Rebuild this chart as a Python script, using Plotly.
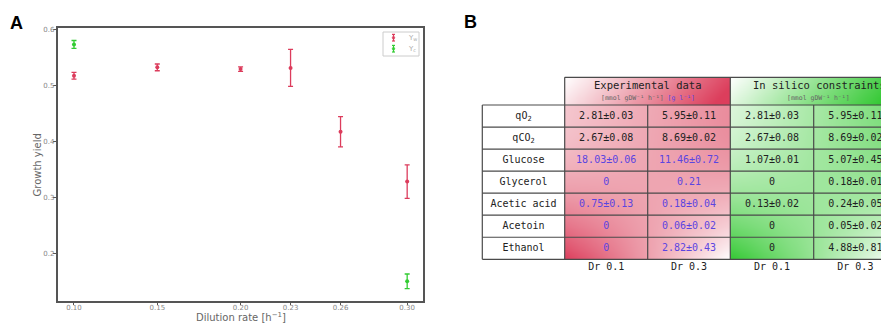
import plotly.graph_objects as go

# ---------------- data: panel A ----------------
dilution = [0.10, 0.15, 0.20, 0.23, 0.26, 0.30]
dilution_labels = ["0.10", "0.15", "0.20", "0.23", "0.26", "0.30"]
yw = [0.517, 0.532, 0.529, 0.531, 0.417, 0.328]
yw_err = [0.006, 0.006, 0.004, 0.033, 0.027, 0.030]
yc_dilution = [0.10, 0.30]
yc = [0.573, 0.150]
yc_err = [0.007, 0.013]
ytick_vals = [0.2, 0.3, 0.4, 0.5, 0.6]
ytick_labels = ["0.2", "0.3", "0.4", "0.5", "0.6"]
legend_labels = ["Y<sub>w</sub>", "Y<sub>c</sub>"]

# ---------------- data: panel B ----------------
row_labels = ["qO<sub>2</sub>", "qCO<sub>2</sub>", "Glucose", "Glycerol",
              "Acetic acid", "Acetoin", "Ethanol"]
exp_dr01 = ["2.81±0.03", "2.67±0.08", "18.03±0.06", "0", "0.75±0.13", "0", "0"]
exp_dr03 = ["5.95±0.11", "8.69±0.02", "11.46±0.72", "0.21", "0.18±0.04", "0.06±0.02", "2.82±0.43"]
sil_dr01 = ["2.81±0.03", "2.67±0.08", "1.07±0.01", "0", "0.13±0.02", "0", "0"]
sil_dr03 = ["5.95±0.11", "8.69±0.02", "5.07±0.45", "0.18±0.01", "0.24±0.05", "0.05±0.02", "4.88±0.81"]
exp_in_g_per_l = [False, False, True, True, True, True, True]
col_labels = ["Dr 0.1", "Dr 0.3", "Dr 0.1", "Dr 0.3"]
header_exp = "Experimental data"
header_sil = "In silico constraints"
units_mmol = "[mmol gDW⁻¹ h⁻¹]"
units_gl = "[g l⁻¹]"

# ---------------- style / geometry ----------------
VW, VH = 889, 323          # browser window
OFF = 8                    # default page body margin
W, H = VW - OFF, VH - OFF  # figure size
RED = "#dc3c5c"
GREEN = "#33cc33"
BLUE = "#5b45e0"
DARK = "#222222"
MONO = "DejaVu Sans Mono"
SANS = "DejaVu Sans"
BORDER = "#4a4a4a"


def px(x):  # window pixel -> paper x
    return (x - OFF) / W


def py(y):  # window pixel -> paper y
    return 1 - (y - OFF) / H


def note(x, y, text, font, **kw):
    fig.add_annotation(x=px(x), y=py(y), xref="paper", yref="paper", text=text,
                       showarrow=False, xanchor=kw.pop("xanchor", "center"),
                       yanchor="middle", font=font, **kw)


# table geometry (window pixel space of x2/y2)
col_edges = [482.3, 564.7, 647.7, 730.3, 813.7, 897.0]
row_top = 105.0
row_h = 22.04
row_edges = [row_top + i * row_h for i in range(len(row_labels) + 1)]
head_top = 77.3

fig = go.Figure()

# ---------- panel A ----------
fig.add_trace(go.Scatter(
    x=dilution, y=yw, mode="markers", name=legend_labels[0],
    marker=dict(color=RED, size=4),
    error_y=dict(type="data", array=yw_err, color=RED, thickness=1.3, width=2.5),
    xaxis="x", yaxis="y", showlegend=False))
fig.add_trace(go.Scatter(
    x=yc_dilution, y=yc, mode="markers", name=legend_labels[1],
    marker=dict(color=GREEN, size=4),
    error_y=dict(type="data", array=yc_err, color=GREEN, thickness=1.3, width=2.5),
    xaxis="x", yaxis="y", showlegend=False))

# axis titles
note(241, 317, "Dilution rate [h<sup>−1</sup>]", dict(family=SANS, size=10, color="#666"))
note(36.5, 165, "Growth yield", dict(family=SANS, size=10, color="#666"), textangle=-90)

# compact legend (box, glyphs, labels)
fig.add_shape(type="rect", xref="paper", yref="paper", x0=px(383), x1=px(419),
              y0=py(32), y1=py(56), fillcolor="white", line=dict(color="#cccccc", width=1))
for i, (lab, col) in enumerate(zip(legend_labels, [RED, GREEN])):
    cy = 37.7 + 11 * i
    fig.add_shape(type="line", xref="paper", yref="paper", x0=px(393.5), x1=px(393.5),
                  y0=py(cy - 3.3), y1=py(cy + 3.3), line=dict(color=col, width=1.2))
    for dy in (-3.3, 3.3):
        fig.add_shape(type="line", xref="paper", yref="paper", x0=px(392), x1=px(395),
                      y0=py(cy + dy), y1=py(cy + dy), line=dict(color=col, width=1.2))
    fig.add_shape(type="circle", xref="paper", yref="paper", x0=px(392.2), x1=px(394.8),
                  y0=py(cy - 1.3), y1=py(cy + 1.3), fillcolor=col, line=dict(color=col, width=0.5))
    note(405.5, cy, lab, dict(family=SANS, size=7, color="#aaaaaa"), xanchor="left")

# ---------- panel B: gradient backgrounds ----------
def grad_grid(x0, x1, y0, y1, func, n=40, m=40):
    xs = [x0 + (i + 0.5) * (x1 - x0) / n for i in range(n)]
    ys = [y0 + (j + 0.5) * (y1 - y0) / m for j in range(m)]
    z = [[func((i + 0.5) / n, (j + 0.5) / m) for i in range(n)] for j in range(m)]
    return xs, ys, z


def body_red(u, v):
    slope = 0.3 + 0.1 * v - 1.4 * v * v
    return min(1, max(0, 0.45 + 0.05 * v + (u - 0.5) * slope))


def body_green(u, v):
    slope = 0.5 - 0.1 * v - 1.4 * v * v
    return min(1, max(0, 0.42 + 0.08 * v + (u - 0.5) * slope))


def head_grad(u, v):
    return min(1, max(0, 0.0 + 0.95 * u + 0.15 * v))


red_scale = [[0, "rgb(255,255,255)"], [0.5, "rgb(237,160,173)"], [1, "rgb(220,62,92)"]]
green_scale = [[0, "rgb(255,255,255)"], [0.5, "rgb(152,228,150)"], [1, "rgb(52,200,52)"]]

blocks = [
    (col_edges[1], col_edges[3], row_edges[0], row_edges[-1], body_red, red_scale),
    (col_edges[3], col_edges[5], row_edges[0], row_edges[-1], body_green, green_scale),
    (col_edges[1], col_edges[3], head_top, row_edges[0], head_grad, red_scale),
    (col_edges[3], col_edges[5], head_top, row_edges[0], head_grad, green_scale),
]
for x0, x1, y0, y1, f, cs in blocks:
    xs, ys, z = grad_grid(x0, x1, y0, y1, f)
    fig.add_trace(go.Heatmap(x=xs, y=ys, z=z, zmin=0, zmax=1, colorscale=cs,
                             zsmooth="best", showscale=False, hoverinfo="skip",
                             xaxis="x2", yaxis="y2", showlegend=False))

# ---------- panel B: borders ----------
lw = 1.2
for y in row_edges:
    fig.add_shape(type="line", xref="x2", yref="y2", x0=col_edges[0], x1=col_edges[-1],
                  y0=y, y1=y, line=dict(color=BORDER, width=lw))
for x in col_edges:
    fig.add_shape(type="line", xref="x2", yref="y2", x0=x, x1=x,
                  y0=row_edges[0], y1=row_edges[-1], line=dict(color=BORDER, width=lw))
fig.add_shape(type="line", xref="x2", yref="y2", x0=col_edges[1], x1=col_edges[-1],
              y0=head_top, y1=head_top, line=dict(color=BORDER, width=lw))
for x in (col_edges[1], col_edges[3]):
    fig.add_shape(type="line", xref="x2", yref="y2", x0=x, x1=x,
                  y0=head_top, y1=row_edges[0], line=dict(color=BORDER, width=lw))

# ---------- panel B: text ----------
row_centers = [(row_edges[i] + row_edges[i + 1]) / 2 for i in range(len(row_labels))]
col_centers = [(col_edges[i] + col_edges[i + 1]) / 2 for i in range(len(col_edges) - 1)]

fig.add_trace(go.Scatter(x=[col_centers[0]] * len(row_labels), y=row_centers,
                         text=row_labels, mode="text", textposition="middle center",
                         textfont=dict(family=MONO, size=10, color=DARK),
                         xaxis="x2", yaxis="y2", showlegend=False, hoverinfo="skip"))

columns = [exp_dr01, exp_dr03, sil_dr01, sil_dr03]
for ci, vals in enumerate(columns):
    if ci < 2:
        colors = [BLUE if g else DARK for g in exp_in_g_per_l]
    else:
        colors = [DARK] * len(vals)
    fig.add_trace(go.Scatter(x=[col_centers[ci + 1]] * len(vals), y=row_centers,
                             text=vals, mode="text", textposition="middle center",
                             textfont=dict(family=MONO, size=10, color=colors),
                             xaxis="x2", yaxis="y2", showlegend=False, hoverinfo="skip"))

fig.add_trace(go.Scatter(x=col_centers[1:], y=[row_edges[-1] + 8.5] * 4,
                         text=col_labels, mode="text", textposition="middle center",
                         textfont=dict(family=MONO, size=10, color=DARK),
                         xaxis="x2", yaxis="y2", showlegend=False, hoverinfo="skip"))

fig.add_annotation(x=col_edges[2], y=85, xref="x2", yref="y2", text=header_exp,
                   showarrow=False, font=dict(family=MONO, size=10.5, color=DARK))
fig.add_annotation(x=col_edges[2], y=98.3, xref="x2", yref="y2",
                   text="%s <span style='color:%s'>%s</span>" % (units_mmol, BLUE, units_gl),
                   showarrow=False, font=dict(family=MONO, size=6.5, color="#666666"))
fig.add_annotation(x=819, y=85, xref="x2", yref="y2", text=header_sil,
                   showarrow=False, font=dict(family=MONO, size=10.5, color=DARK))
fig.add_annotation(x=818, y=98.3, xref="x2", yref="y2", text=units_mmol,
                   showarrow=False, font=dict(family=MONO, size=6.5, color="#666666"))

# panel letters
note(16, 23, "<b>A</b>", dict(family="Liberation Sans", size=18, color="black"))
note(470, 22, "<b>B</b>", dict(family="Liberation Sans", size=18, color="black"))

fig.update_layout(
    width=W, height=H, margin=dict(l=0, r=0, t=0, b=0),
    paper_bgcolor="white", plot_bgcolor="white", showlegend=False,
    xaxis=dict(domain=[px(57.5), px(423)], range=[0.0901, 0.3095],
               tickvals=dilution, ticktext=dilution_labels, ticks="outside", ticklen=3,
               ticklabelstandoff=-4,
               tickcolor="#555", tickfont=dict(family=SANS, size=7, color="#888"),
               showline=True, mirror=True, linecolor="#555", linewidth=1.5,
               showgrid=False, zeroline=False, automargin=False),
    yaxis=dict(domain=[py(300.6), py(28)], range=[0.1155, 0.6023],
               tickvals=ytick_vals, ticktext=ytick_labels, ticks="outside", ticklen=3,
               ticklabelstandoff=-3,
               tickcolor="#555", tickfont=dict(family=SANS, size=7, color="#888"),
               showline=True, mirror=True, linecolor="#555", linewidth=1.5,
               showgrid=False, zeroline=False, automargin=False),
    xaxis2=dict(domain=[0.5, 1], range=[OFF + 0.5 * W, VW], visible=False, fixedrange=True),
    yaxis2=dict(domain=[0, 1], range=[VH, OFF], visible=False, fixedrange=True),
)

fig.write_html("out.html")
